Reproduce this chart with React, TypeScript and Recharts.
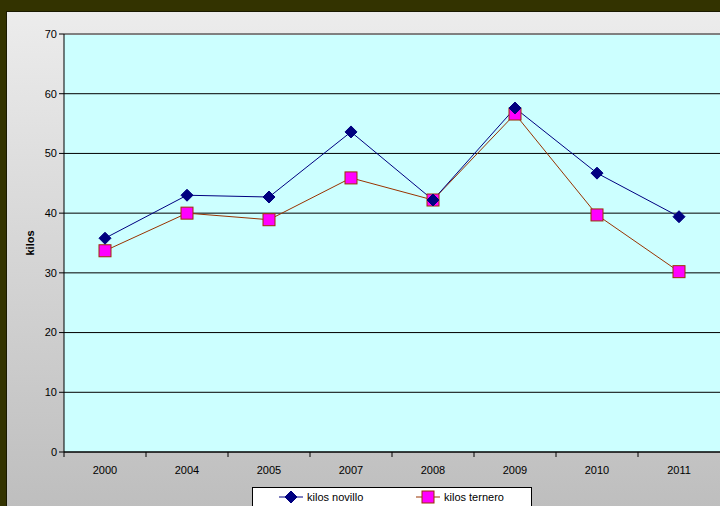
import {
  CartesianGrid,
  Line,
  LineChart,
  ReferenceLine,
  XAxis,
  YAxis,
} from "recharts";

const years = ["2000", "2004", "2005", "2007", "2008", "2009", "2010", "2011"];
const kilosNovillo = [35.8, 43.0, 42.7, 53.6, 42.2, 57.6, 46.7, 39.4];
const kilosTernero = [33.7, 40.0, 38.9, 45.9, 42.2, 56.6, 39.7, 30.2];
const yTicks = [0, 10, 20, 30, 40, 50, 60, 70];

const data = years.map((year, i) => ({
  year,
  novillo: kilosNovillo[i],
  ternero: kilosTernero[i],
}));

const W = 720;
const H = 506;
const PLOT_LEFT = 64;
const BAND = (W - PLOT_LEFT) / years.length;
const FONT = "'Liberation Sans', Arial, sans-serif";

function Diamond(props: any) {
  const { cx, cy } = props;
  if (cx == null || cy == null) return null;
  const r = 6;
  return (
    <path
      d={`M${cx},${cy - r} L${cx + r},${cy} L${cx},${cy + r} L${cx - r},${cy} Z`}
      fill="#000080"
      stroke="#000080"
    />
  );
}

function Square(props: any) {
  const { cx, cy } = props;
  if (cx == null || cy == null) return null;
  const r = 6;
  return (
    <rect
      x={cx - r}
      y={cy - r}
      width={r * 2}
      height={r * 2}
      fill="#FF00FF"
      stroke="#993300"
      strokeWidth={1}
    />
  );
}

function XTick(props: any) {
  const { x, y, payload } = props;
  return (
    <g>
      <line x1={x - BAND / 2} y1={y - 8} x2={x - BAND / 2} y2={y - 3} stroke="#000" />
      <text x={x} y={y + 14} textAnchor="middle" fontSize={11} fill="#000" fontFamily={FONT}>
        {payload.value}
      </text>
    </g>
  );
}

function LegendBox() {
  return (
    <div
      style={{
        position: "absolute",
        left: 252,
        top: 487,
        width: 278,
        height: 22,
        background: "#fff",
        border: "1px solid #000",
        fontFamily: FONT,
        fontSize: 11,
        color: "#000",
      }}
    >
      <svg width={278} height={22} style={{ position: "absolute", left: 0, top: 0 }}>
        <line x1={26} y1={9} x2={50} y2={9} stroke="#000080" />
        <Diamond cx={38} cy={9} />
        <text x={54} y={13} fontSize={11} fontFamily={FONT}>kilos novillo</text>
        <line x1={163} y1={9} x2={187} y2={9} stroke="#993300" />
        <Square cx={175} cy={9} />
        <text x={191} y={13} fontSize={11} fontFamily={FONT}>kilos ternero</text>
      </svg>
    </div>
  );
}

export default function App() {
  return (
    <div
      style={{
        position: "fixed",
        left: 0,
        top: 0,
        width: W,
        height: H,
        background: "#333300",
        overflow: "hidden",
      }}
    >
      <div
        style={{
          position: "absolute",
          left: 6,
          top: 11,
          width: W,
          height: H,
          background: "linear-gradient(#ececec, #bdbdbd)",
          borderTop: "1px solid #1a1a00",
          borderLeft: "1px solid #1a1a00",
        }}
      />
      <div style={{ position: "absolute", left: 0, top: 0 }}>
        <LineChart
          width={W}
          height={H}
          data={data}
          margin={{ top: 34, right: 0, bottom: 24, left: 0 }}
        >
          <CartesianGrid
            vertical={false}
            fill="#CCFFFF"
            stroke="#000"
            strokeOpacity={1}
          />
          <ReferenceLine y={70} stroke="#808080" strokeWidth={2} />
          <XAxis
            dataKey="year"
            height={30}
            stroke="#000"
            tickLine={false}
            tick={<XTick />}
            interval={0}
            padding={{ left: BAND / 2, right: BAND / 2 }}
          />
          <YAxis
            domain={[0, 70]}
            ticks={yTicks}
            width={PLOT_LEFT}
            stroke="#000"
            tickSize={5}
            tick={{ fontSize: 11, fill: "#000", fontFamily: FONT }}
            label={{
              value: "kilos",
              angle: -90,
              position: "insideLeft",
              offset: 30,
              style: { fontSize: 11, fontWeight: "bold", fill: "#000", fontFamily: FONT, textAnchor: "middle" },
            }}
          />
          <Line
            type="linear"
            dataKey="ternero"
            stroke="#993300"
            strokeWidth={1}
            dot={<Square />}
            isAnimationActive={false}
          />
          <Line
            type="linear"
            dataKey="novillo"
            stroke="#000080"
            strokeWidth={1}
            dot={<Diamond />}
            isAnimationActive={false}
          />
        </LineChart>
      </div>
      <LegendBox />
    </div>
  );
}
